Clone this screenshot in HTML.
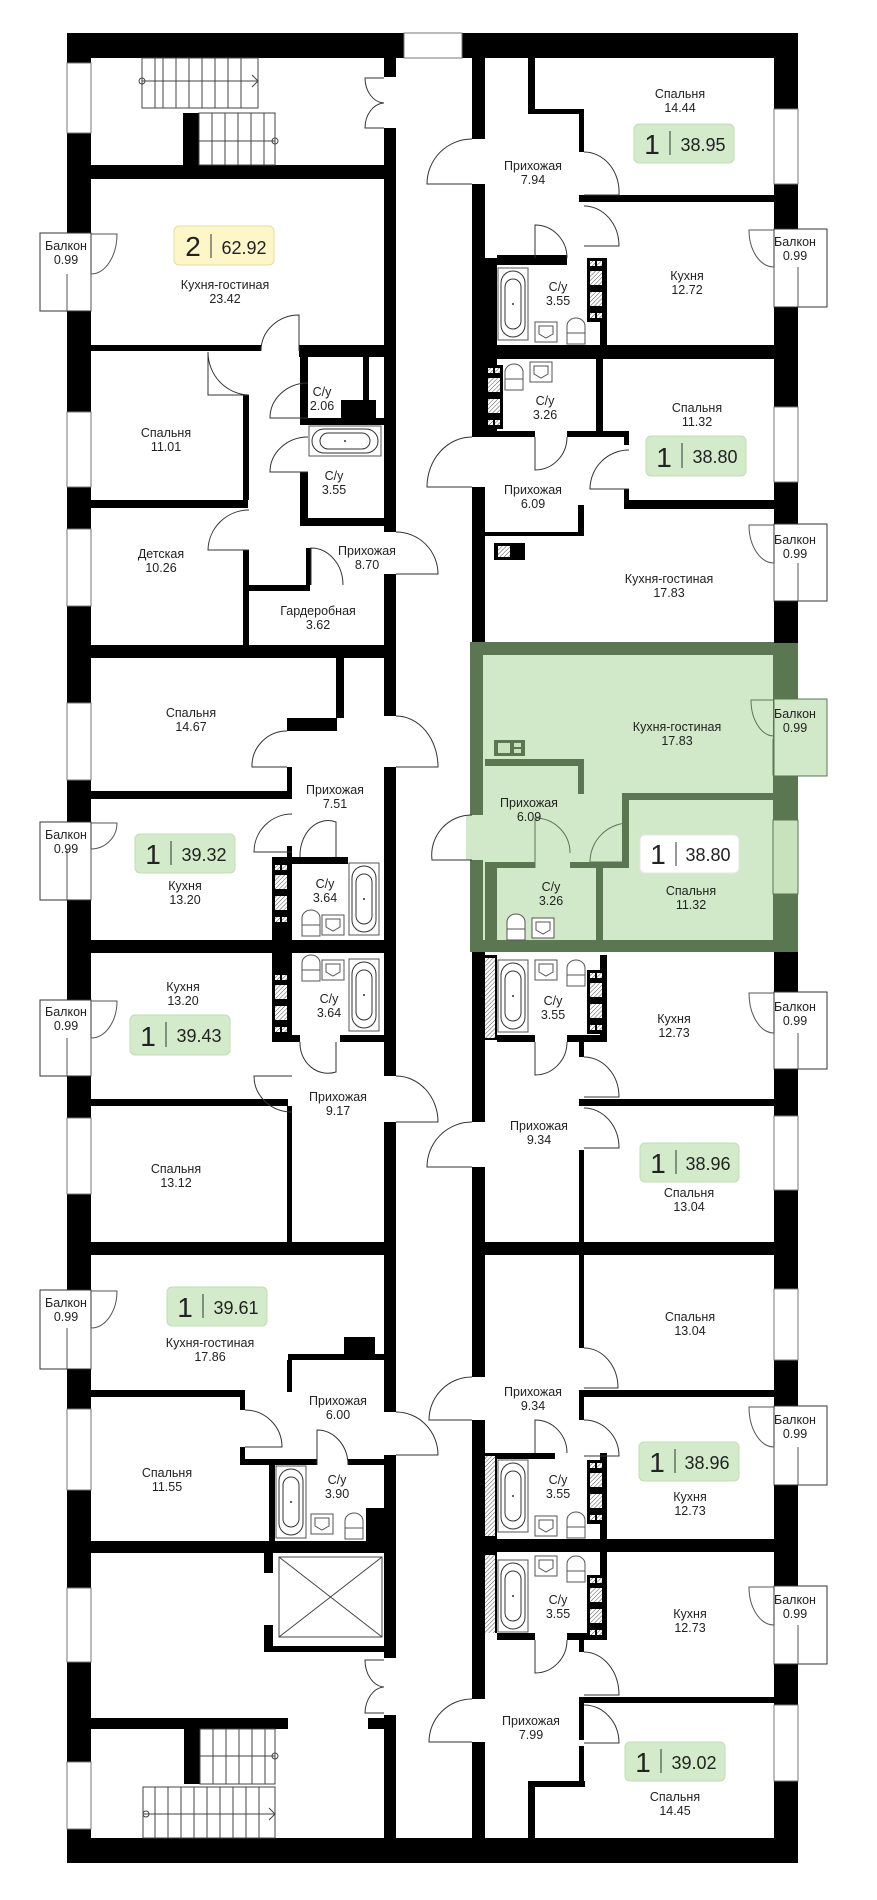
<!DOCTYPE html>
<html><head><meta charset="utf-8"><style>
html,body{margin:0;padding:0;background:#fff;}
svg{display:block;}
text{font-family:"Liberation Sans",sans-serif;fill:#222;}
.l{font-size:12.5px;text-anchor:middle;}
</style></head><body>
<svg width="877" height="1900" viewBox="0 0 877 1900" xmlns="http://www.w3.org/2000/svg">
<defs>
<pattern id="h" width="3" height="3" patternUnits="userSpaceOnUse" patternTransform="rotate(45)"><rect width="3" height="3" fill="#fff"/><line x1="0" y1="0" x2="0" y2="3" stroke="#555" stroke-width="1"/></pattern>
<g id="shv"><rect width="18" height="64" fill="#000"/><rect x="3" y="3" width="5" height="5" fill="url(#h)"/><rect x="10" y="3" width="5" height="5" fill="url(#h)"/><rect x="3" y="13" width="12" height="14" fill="url(#h)"/><rect x="3" y="34" width="12" height="14" fill="url(#h)"/><rect x="3" y="55" width="5" height="5" fill="url(#h)"/><rect x="10" y="55" width="5" height="5" fill="url(#h)"/></g>
<g id="tub"><rect x="0" y="0" width="30" height="72" fill="#fff" stroke="#555"/><rect x="3" y="3" width="24" height="66" rx="12" fill="none" stroke="#333"/><rect x="7" y="11" width="16" height="50" rx="8" fill="none" stroke="#333"/><circle cx="15" cy="36" r="1" fill="#333"/></g>
<g id="wc"><path d="M0,26 V8 A9,8 0 0 1 18,8 V26 Z" fill="#fff" stroke="#555"/><line x1="0" y1="15" x2="18" y2="15" stroke="#555"/></g>
<g id="sink"><rect width="22" height="20" fill="#fff" stroke="#555"/><path d="M4,4 H18 V12 L11,16 L4,12 Z" fill="none" stroke="#555"/></g>
</defs>

<!-- green apartment -->
<rect x="470" y="642" width="328" height="310" fill="#5b7752"/>
<rect x="483" y="655" width="290" height="285" fill="#d2e9c9"/>
<rect x="466" y="815" width="20" height="45" fill="#d2e9c9"/>
<rect x="773" y="739" width="25" height="36" fill="#c8e2bd" stroke="#5b7752"/>
<rect x="773" y="820" width="25" height="74" fill="#c8e2bd" stroke="#5b7752"/>
<g fill="#5b7752">
<rect x="485" y="759" width="99" height="7"/><rect x="578" y="759" width="6" height="35"/>
<rect x="622" y="793" width="7" height="69"/><rect x="622" y="793" width="151" height="7"/>
<rect x="485" y="862" width="50" height="6"/><rect x="570" y="862" width="59" height="6"/>
<rect x="596" y="868" width="7" height="74"/>
<rect x="494" y="740" width="31" height="16"/><rect x="485" y="868" width="12" height="72"/>
</g>
<rect x="498" y="743" width="12" height="10" fill="#c8e2bd"/><rect x="514" y="743" width="7" height="4" fill="#c8e2bd"/><rect x="514" y="749" width="7" height="4" fill="#c8e2bd"/>
<path d="M535,868 V818 A35,35 0 0 1 570,853" fill="none" stroke="#5b7752"/>
<path d="M629,862 H590 A39,39 0 0 1 629,823" fill="none" stroke="#5b7752"/>
<path d="M472,860 H432 A40,40 0 0 1 472,815" fill="none" stroke="#333"/>
<rect x="774" y="699" width="53" height="77" fill="#d2e9c9" stroke="#5b7752"/>
<path d="M774,700 H751 A23,36 0 0 0 774,736" fill="none" stroke="#5b7752"/>

<!-- outer walls -->
<g fill="#000">
<rect x="67" y="33" width="731" height="25"/>
<rect x="67" y="1838" width="731" height="25"/>
<rect x="67" y="33" width="24" height="1830"/>
<rect x="774" y="33" width="24" height="610"/>
<rect x="774" y="952" width="24" height="911"/>
</g>
<rect x="404" y="33" width="58" height="25" fill="#fff" stroke="#777"/>

<g fill="#fff" stroke="#777">
<rect x="67" y="63" width="24" height="70"/><rect x="67" y="412" width="24" height="75"/>
<rect x="67" y="529" width="24" height="77"/><rect x="67" y="703" width="24" height="77"/>
<rect x="67" y="1118" width="24" height="76"/>
<rect x="67" y="1409" width="24" height="81"/><rect x="67" y="1588" width="24" height="74"/><rect x="67" y="1762" width="24" height="67"/>
<rect x="774" y="109" width="24" height="75"/><rect x="774" y="407" width="24" height="75"/>
<rect x="774" y="1116" width="24" height="74"/>
<rect x="774" y="1289" width="24" height="71"/>
<rect x="774" y="1705" width="24" height="76"/>
</g>
<!-- balconies -->
<g fill="#fff" stroke="#333">
<rect x="40" y="233" width="51" height="78"/><rect x="40" y="822" width="51" height="78"/><rect x="40" y="1000" width="51" height="76"/><rect x="40" y="1290" width="51" height="79"/>
<rect x="774" y="229" width="53" height="78"/><rect x="774" y="524" width="53" height="77"/><rect x="774" y="992" width="53" height="77"/><rect x="774" y="1406" width="53" height="79"/><rect x="774" y="1586" width="53" height="78"/>
</g>
<g fill="none" stroke="#555">
<line x1="67" y1="274" x2="67" y2="311"/><line x1="91" y1="274" x2="91" y2="311"/>
<line x1="67" y1="849" x2="67" y2="900"/><line x1="91" y1="849" x2="91" y2="900"/>
<line x1="67" y1="1038" x2="67" y2="1076"/><line x1="91" y1="1038" x2="91" y2="1076"/>
<line x1="67" y1="1328" x2="67" y2="1369"/><line x1="91" y1="1328" x2="91" y2="1369"/>
<line x1="774" y1="267" x2="774" y2="307"/><line x1="798" y1="267" x2="798" y2="307"/>
<line x1="774" y1="563" x2="774" y2="601"/><line x1="798" y1="563" x2="798" y2="601"/>
<line x1="774" y1="1033" x2="774" y2="1069"/><line x1="798" y1="1033" x2="798" y2="1069"/>
<line x1="774" y1="1447" x2="774" y2="1485"/><line x1="798" y1="1447" x2="798" y2="1485"/>
<line x1="774" y1="1625" x2="774" y2="1664"/><line x1="798" y1="1625" x2="798" y2="1664"/>
<path d="M91,234 H117 A26,40 0 0 1 91,274"/><path d="M91,823 H117 A26,26 0 0 1 91,849"/><path d="M91,1001 H117 A26,37 0 0 1 91,1038"/><path d="M91,1291 H117 A26,37 0 0 1 91,1328"/>
<path d="M774,230 H749 A25,37 0 0 0 774,267"/><path d="M774,525 H749 A25,38 0 0 0 774,563"/><path d="M774,993 H749 A25,40 0 0 0 774,1033"/><path d="M774,1407 H749 A25,40 0 0 0 774,1447"/><path d="M774,1587 H749 A25,38 0 0 0 774,1625"/>
</g>

<!-- corridor walls -->
<g fill="#000">
<rect x="384" y="58" width="12" height="19"/><rect x="384" y="128" width="12" height="404"/><rect x="384" y="574" width="12" height="142"/>
<rect x="384" y="767" width="12" height="309"/><rect x="384" y="1122" width="12" height="290"/><rect x="384" y="1455" width="12" height="203"/><rect x="384" y="1715" width="12" height="123"/>
<rect x="472" y="58" width="13" height="81"/><rect x="472" y="184" width="13" height="253"/><rect x="472" y="487" width="13" height="155"/>
<rect x="472" y="952" width="13" height="170"/><rect x="472" y="1167" width="13" height="210"/><rect x="472" y="1420" width="13" height="279"/><rect x="472" y="1742" width="13" height="96"/>
</g>
<g fill="none" stroke="#333">
<path d="M472,184 H427 A45,45 0 0 1 472,139"/><path d="M472,487 H427 A45,50 0 0 1 472,437"/>
<path d="M472,1167 H427 A45,45 0 0 1 472,1122"/><path d="M472,1420 H429 A43,43 0 0 1 472,1377"/><path d="M472,1742 H429 A43,43 0 0 1 472,1699"/>
<path d="M396,574 H438 A42,42 0 0 0 396,532"/><path d="M396,767 H438 A42,51 0 0 0 396,716"/><path d="M396,1122 H438 A42,46 0 0 0 396,1076"/><path d="M396,1455 H438 A42,43 0 0 0 396,1412"/>
<path d="M384,78 H365 A20,25 0 0 0 384,103 A20,25 0 0 0 365,128 H384"/>
<path d="M384,1660 H365 A20,27 0 0 0 384,1687 A20,27 0 0 0 365,1713 H384"/>
</g>

<!-- left block -->
<g fill="#000">
<rect x="91" y="165" width="293" height="14"/>
<rect x="183" y="113" width="16" height="52"/>
<rect x="91" y="345" width="170" height="6"/><rect x="299" y="345" width="85" height="12"/>
<rect x="91" y="500" width="157" height="8"/>
<rect x="91" y="645" width="305" height="13"/>
<rect x="243" y="395" width="6" height="105"/><rect x="243" y="550" width="6" height="95"/>
<rect x="300" y="357" width="8" height="61"/><rect x="300" y="472" width="8" height="54"/>
<rect x="300" y="418" width="84" height="7"/><rect x="300" y="518" width="84" height="8"/>
<rect x="363" y="357" width="6" height="45"/>
<rect x="341" y="400" width="35" height="18"/>
<rect x="246" y="585" width="64" height="6"/><rect x="306" y="548" width="5" height="37"/>
<rect x="336" y="656" width="8" height="62"/><rect x="287" y="718" width="50" height="13"/>
<rect x="91" y="791" width="197" height="8"/>
<rect x="287" y="767" width="5" height="32"/><rect x="287" y="846" width="5" height="96"/>
<rect x="272" y="857" width="20" height="85"/><rect x="290" y="857" width="58" height="7"/>
<rect x="91" y="940" width="305" height="13"/>
<rect x="272" y="953" width="20" height="87"/><rect x="272" y="1035" width="28" height="7"/><rect x="340" y="1035" width="44" height="7"/>
<rect x="91" y="1099" width="197" height="7"/><rect x="287" y="1106" width="5" height="136"/>
<rect x="91" y="1242" width="305" height="13"/>
<rect x="344" y="1337" width="31" height="17"/><rect x="288" y="1354" width="96" height="6"/><rect x="287" y="1360" width="5" height="32"/>
<rect x="91" y="1390" width="154" height="7"/><rect x="240" y="1397" width="5" height="13"/><rect x="240" y="1447" width="5" height="18"/>
<rect x="240" y="1459" width="77" height="6"/><rect x="348" y="1459" width="36" height="6"/><rect x="269" y="1465" width="6" height="76"/>
<rect x="366" y="1508" width="18" height="33"/>
<rect x="91" y="1541" width="305" height="12"/>
<rect x="264" y="1553" width="9" height="20"/><rect x="264" y="1625" width="9" height="27"/><rect x="264" y="1646" width="132" height="6"/>
<rect x="91" y="1718" width="197" height="11"/><rect x="368" y="1718" width="19" height="11"/>
<rect x="184" y="1729" width="16" height="55"/>
</g>
<rect x="279" y="1557" width="103" height="80" fill="#fff" stroke="#444"/>
<path d="M279,1557 L382,1637 M382,1557 L279,1637" stroke="#444"/>
<g stroke="#444" fill="none" stroke-width="1">
<rect x="142" y="58" width="116" height="50"/>
<path d="M155,58V108 M163,58V108 M176,58V108 M189,58V108 M202,58V108 M215,58V108 M228,58V108 M241,58V108"/>
<path d="M142,81 H258 M252,75 L258,81 L252,87"/><circle cx="142" cy="81" r="3"/>
<rect x="199" y="113" width="76" height="52"/>
<path d="M212,113V165 M225,113V165 M238,113V165 M251,113V165 M264,113V165 M199,141 H275"/><circle cx="275" cy="141" r="3"/>
<rect x="143" y="1787" width="132" height="51"/>
<path d="M155,1787V1838 M168,1787V1838 M181,1787V1838 M194,1787V1838 M207,1787V1838 M220,1787V1838 M233,1787V1838 M246,1787V1838 M259,1787V1838 M143,1814 H275 M269,1808 L275,1814 L269,1820"/><circle cx="146" cy="1814" r="3"/>
<rect x="200" y="1729" width="75" height="55"/>
<path d="M213,1729V1784 M226,1729V1784 M239,1729V1784 M252,1729V1784 M265,1729V1784 M200,1756 H275"/><circle cx="275" cy="1756" r="3"/>
</g>
<g fill="none" stroke="#333">
<path d="M299,351 V315 A38,36 0 0 0 261,351"/>
<path d="M249,395 H208 V352"/><path d="M208,352 A42,43 0 0 0 249,395" />
<path d="M249,550 H208 A41,41 0 0 1 249,510"/>
<path d="M308,418 H270 A38,35 0 0 1 308,383"/><path d="M308,472 H270 A38,35 0 0 1 308,437"/>
<path d="M311,585 V548 A32,37 0 0 1 343,585"/>
<path d="M287,767 H252 A35,35 0 0 1 287,731"/>
<path d="M292,852 H254 A38,38 0 0 1 292,814"/><path d="M300,857 A28,35 0 0 1 336,822 V857"/>
<path d="M292,1076 H254 A38,36 0 0 0 292,1112"/><path d="M300,1042 A28,30 0 0 0 336,1072 V1042"/>
<path d="M245,1410 A37,37 0 0 1 282,1447 H245"/><path d="M317,1465 V1430 A31,35 0 0 1 348,1465"/>
</g>
<use href="#shv" x="272" y="862"/><use href="#shv" x="272" y="972"/>
<use href="#tub" x="349" y="863"/><use href="#tub" x="349" y="959"/><use href="#tub" x="276" y="1466"/>
<g transform="translate(309,426) rotate(-90) translate(-30,0)"><use href="#tub" x="0" y="0"/></g>
<use href="#sink" x="322" y="915"/><use href="#sink" x="322" y="960"/><use href="#wc" x="302" y="910"/><use href="#wc" x="302" y="955"/>
<use href="#sink" x="311" y="1514"/><use href="#wc" x="345" y="1513"/>

<!-- right block -->
<g fill="#000">
<rect x="528" y="58" width="7" height="51"/><rect x="528" y="109" width="56" height="5"/><rect x="579" y="114" width="5" height="38"/>
<rect x="579" y="195" width="198" height="7"/>
<rect x="472" y="258" width="25" height="87"/><rect x="497" y="255" width="70" height="10"/><rect x="600" y="258" width="7" height="87"/>
<rect x="472" y="345" width="305" height="14"/>
<rect x="472" y="359" width="25" height="74"/>
<rect x="485" y="431" width="50" height="6"/><rect x="567" y="431" width="61" height="6"/><rect x="596" y="359" width="7" height="78"/>
<rect x="624" y="431" width="5" height="14"/><rect x="624" y="489" width="5" height="20"/><rect x="624" y="500" width="153" height="9"/>
<rect x="578" y="505" width="6" height="31"/><rect x="485" y="532" width="99" height="4"/>
<rect x="494" y="543" width="31" height="17"/>
<rect x="472" y="955" width="25" height="85"/><rect x="497" y="1035" width="38" height="7"/><rect x="567" y="1035" width="40" height="7"/><rect x="600" y="955" width="7" height="80"/>
<rect x="579" y="1042" width="5" height="15"/><rect x="579" y="1099" width="198" height="7"/><rect x="579" y="1150" width="5" height="92"/>
<rect x="472" y="1242" width="305" height="13"/>
<rect x="579" y="1255" width="5" height="93"/><rect x="579" y="1390" width="198" height="7"/><rect x="579" y="1397" width="5" height="23"/>
<rect x="472" y="1453" width="25" height="86"/><rect x="497" y="1453" width="58" height="6"/><rect x="600" y="1453" width="7" height="86"/>
<rect x="472" y="1539" width="305" height="13"/>
<rect x="472" y="1552" width="25" height="81"/><rect x="600" y="1552" width="7" height="88"/>
<rect x="497" y="1633" width="38" height="7"/><rect x="567" y="1633" width="40" height="7"/><rect x="579" y="1640" width="5" height="12"/>
<rect x="579" y="1697" width="198" height="6"/><rect x="579" y="1703" width="5" height="37"/><rect x="579" y="1746" width="5" height="41"/>
<rect x="528" y="1781" width="57" height="6"/><rect x="528" y="1787" width="7" height="51"/>
</g>
<g fill="url(#h)"><rect x="485" y="958" width="10" height="80"/><rect x="485" y="1456" width="10" height="80"/><rect x="485" y="1555" width="10" height="78"/></g>
<rect x="498" y="546" width="12" height="11" fill="url(#h)"/>
<use href="#shv" x="587" y="258"/><use href="#shv" x="485" y="365"/><use href="#shv" x="587" y="970"/><use href="#shv" x="587" y="1460"/><use href="#shv" x="587" y="1575"/>
<use href="#tub" x="498" y="268"/><use href="#tub" x="498" y="960"/><use href="#tub" x="498" y="1460"/><use href="#tub" x="498" y="1560"/>
<use href="#sink" x="535" y="322"/><use href="#wc" x="567" y="318"/><use href="#sink" x="530" y="362"/><use href="#wc" x="505" y="364"/>
<use href="#sink" x="535" y="960"/><use href="#wc" x="567" y="960"/><use href="#sink" x="535" y="1516"/><use href="#wc" x="567" y="1512"/>
<use href="#sink" x="535" y="1556"/><use href="#wc" x="567" y="1556"/><use href="#sink" x="532" y="918"/><use href="#wc" x="507" y="914"/>
<g fill="none" stroke="#333">
<path d="M584,152 A35,40 0 0 1 619,195 H584"/><path d="M584,206 A35,40 0 0 1 619,246 H584"/>
<path d="M535,258 V225 A32,33 0 0 1 567,258"/><path d="M535,437 V470 A32,33 0 0 0 567,437"/>
<path d="M629,489 H590 A39,39 0 0 1 629,450"/>
<path d="M584,1057 A35,40 0 0 1 619,1097 H584"/><path d="M584,1108 A35,40 0 0 1 619,1148 H584"/>
<path d="M535,1042 V1075 A32,33 0 0 0 567,1042"/>
<path d="M584,1348 A34,40 0 0 1 618,1388 H584"/><path d="M584,1420 A35,36 0 0 1 619,1456 H584"/>
<path d="M535,1453 V1420 A32,33 0 0 1 567,1453"/><path d="M535,1640 V1673 A32,33 0 0 0 567,1640"/>
<path d="M584,1652 A35,43 0 0 1 619,1695 H584"/><path d="M584,1705 A35,38 0 0 1 619,1743 H584"/>
</g>

<!-- badges -->
<g>
<rect x="174" y="226" width="100" height="39" rx="5" fill="#fdf6c9" stroke="#e6dca0"/>
<text x="193" y="256" font-size="28" text-anchor="middle">2</text><line x1="211" y1="234" x2="211" y2="258" stroke="#333"/><text x="244" y="254" font-size="18" text-anchor="middle">62.92</text>
</g>
<g fill="#d3ebcb" stroke="#c2dcb6">
<rect x="634" y="124" width="100" height="39" rx="5"/><rect x="646" y="436" width="100" height="40" rx="5"/>
<rect x="135" y="834" width="100" height="39" rx="5"/><rect x="130" y="1015" width="100" height="40" rx="5"/>
<rect x="640" y="1143" width="99" height="39" rx="5"/><rect x="167" y="1287" width="100" height="39" rx="5"/>
<rect x="639" y="1442" width="100" height="39" rx="5"/><rect x="625" y="1742" width="100" height="39" rx="5"/>
</g>
<rect x="640" y="835" width="99" height="38" rx="5" fill="#fff" stroke="#e5e5e5"/>
<g font-size="28" text-anchor="middle">
<text x="652" y="154">1</text><text x="664" y="467">1</text><text x="153" y="864">1</text><text x="148" y="1046">1</text>
<text x="658" y="1173">1</text><text x="185" y="1317">1</text><text x="657" y="1472">1</text><text x="643" y="1772">1</text><text x="658" y="864">1</text>
</g>
<g stroke="#333">
<line x1="670" y1="131" x2="670" y2="155"/><line x1="682" y1="443" x2="682" y2="468"/><line x1="171" y1="841" x2="171" y2="865"/><line x1="166" y1="1022" x2="166" y2="1047"/>
<line x1="676" y1="1150" x2="676" y2="1174"/><line x1="203" y1="1294" x2="203" y2="1318"/><line x1="675" y1="1449" x2="675" y2="1473"/><line x1="661" y1="1749" x2="661" y2="1773"/><line x1="676" y1="842" x2="676" y2="866"/>
</g>
<g font-size="18" text-anchor="middle">
<text x="703" y="151">38.95</text><text x="715" y="463">38.80</text><text x="204" y="861">39.32</text><text x="199" y="1042">39.43</text>
<text x="708" y="1170">38.96</text><text x="236" y="1314">39.61</text><text x="707" y="1469">38.96</text><text x="694" y="1769">39.02</text><text x="708" y="861">38.80</text>
</g>

<!-- labels -->
<g class="l">
<text x="66" y="250">Балкон</text><text x="66" y="264">0.99</text>
<text x="225" y="289">Кухня-гостиная</text><text x="225" y="303">23.42</text>
<text x="166" y="437">Спальня</text><text x="166" y="451">11.01</text>
<text x="161" y="558">Детская</text><text x="161" y="572">10.26</text>
<text x="322" y="396">С/у</text><text x="322" y="410">2.06</text>
<text x="334" y="480">С/у</text><text x="334" y="494">3.55</text>
<text x="367" y="555">Прихожая</text><text x="367" y="569">8.70</text>
<text x="318" y="615">Гардеробная</text><text x="318" y="629">3.62</text>
<text x="680" y="98">Спальня</text><text x="680" y="112">14.44</text>
<text x="533" y="170">Прихожая</text><text x="533" y="184">7.94</text>
<text x="687" y="280">Кухня</text><text x="687" y="294">12.72</text>
<text x="558" y="291">С/у</text><text x="558" y="305">3.55</text>
<text x="795" y="246">Балкон</text><text x="795" y="260">0.99</text>
<text x="545" y="405">С/у</text><text x="545" y="419">3.26</text>
<text x="697" y="412">Спальня</text><text x="697" y="426">11.32</text>
<text x="533" y="494">Прихожая</text><text x="533" y="508">6.09</text>
<text x="795" y="544">Балкон</text><text x="795" y="558">0.99</text>
<text x="669" y="583">Кухня-гостиная</text><text x="669" y="597">17.83</text>
<text x="191" y="717">Спальня</text><text x="191" y="731">14.67</text>
<text x="335" y="794">Прихожая</text><text x="335" y="808">7.51</text>
<text x="66" y="839">Балкон</text><text x="66" y="853">0.99</text>
<text x="185" y="890">Кухня</text><text x="185" y="904">13.20</text>
<text x="325" y="888">С/у</text><text x="325" y="902">3.64</text>
<text x="183" y="991">Кухня</text><text x="183" y="1005">13.20</text>
<text x="66" y="1016">Балкон</text><text x="66" y="1030">0.99</text>
<text x="329" y="1003">С/у</text><text x="329" y="1017">3.64</text>
<text x="338" y="1101">Прихожая</text><text x="338" y="1115">9.17</text>
<text x="176" y="1173">Спальня</text><text x="176" y="1187">13.12</text>
<text x="795" y="718">Балкон</text><text x="795" y="732">0.99</text>
<text x="677" y="731">Кухня-гостиная</text><text x="677" y="745">17.83</text>
<text x="529" y="807">Прихожая</text><text x="529" y="821">6.09</text>
<text x="551" y="891">С/у</text><text x="551" y="905">3.26</text>
<text x="691" y="895">Спальня</text><text x="691" y="909">11.32</text>
<text x="553" y="1005">С/у</text><text x="553" y="1019">3.55</text>
<text x="674" y="1023">Кухня</text><text x="674" y="1037">12.73</text>
<text x="795" y="1011">Балкон</text><text x="795" y="1025">0.99</text>
<text x="539" y="1130">Прихожая</text><text x="539" y="1144">9.34</text>
<text x="689" y="1197">Спальня</text><text x="689" y="1211">13.04</text>
<text x="66" y="1307">Балкон</text><text x="66" y="1321">0.99</text>
<text x="210" y="1347">Кухня-гостиная</text><text x="210" y="1361">17.86</text>
<text x="338" y="1405">Прихожая</text><text x="338" y="1419">6.00</text>
<text x="167" y="1477">Спальня</text><text x="167" y="1491">11.55</text>
<text x="337" y="1484">С/у</text><text x="337" y="1498">3.90</text>
<text x="690" y="1321">Спальня</text><text x="690" y="1335">13.04</text>
<text x="533" y="1396">Прихожая</text><text x="533" y="1410">9.34</text>
<text x="795" y="1424">Балкон</text><text x="795" y="1438">0.99</text>
<text x="558" y="1484">С/у</text><text x="558" y="1498">3.55</text>
<text x="690" y="1501">Кухня</text><text x="690" y="1515">12.73</text>
<text x="558" y="1604">С/у</text><text x="558" y="1618">3.55</text>
<text x="690" y="1618">Кухня</text><text x="690" y="1632">12.73</text>
<text x="795" y="1604">Балкон</text><text x="795" y="1618">0.99</text>
<text x="531" y="1725">Прихожая</text><text x="531" y="1739">7.99</text>
<text x="675" y="1801">Спальня</text><text x="675" y="1815">14.45</text>
</g>
</svg>
</body></html>
